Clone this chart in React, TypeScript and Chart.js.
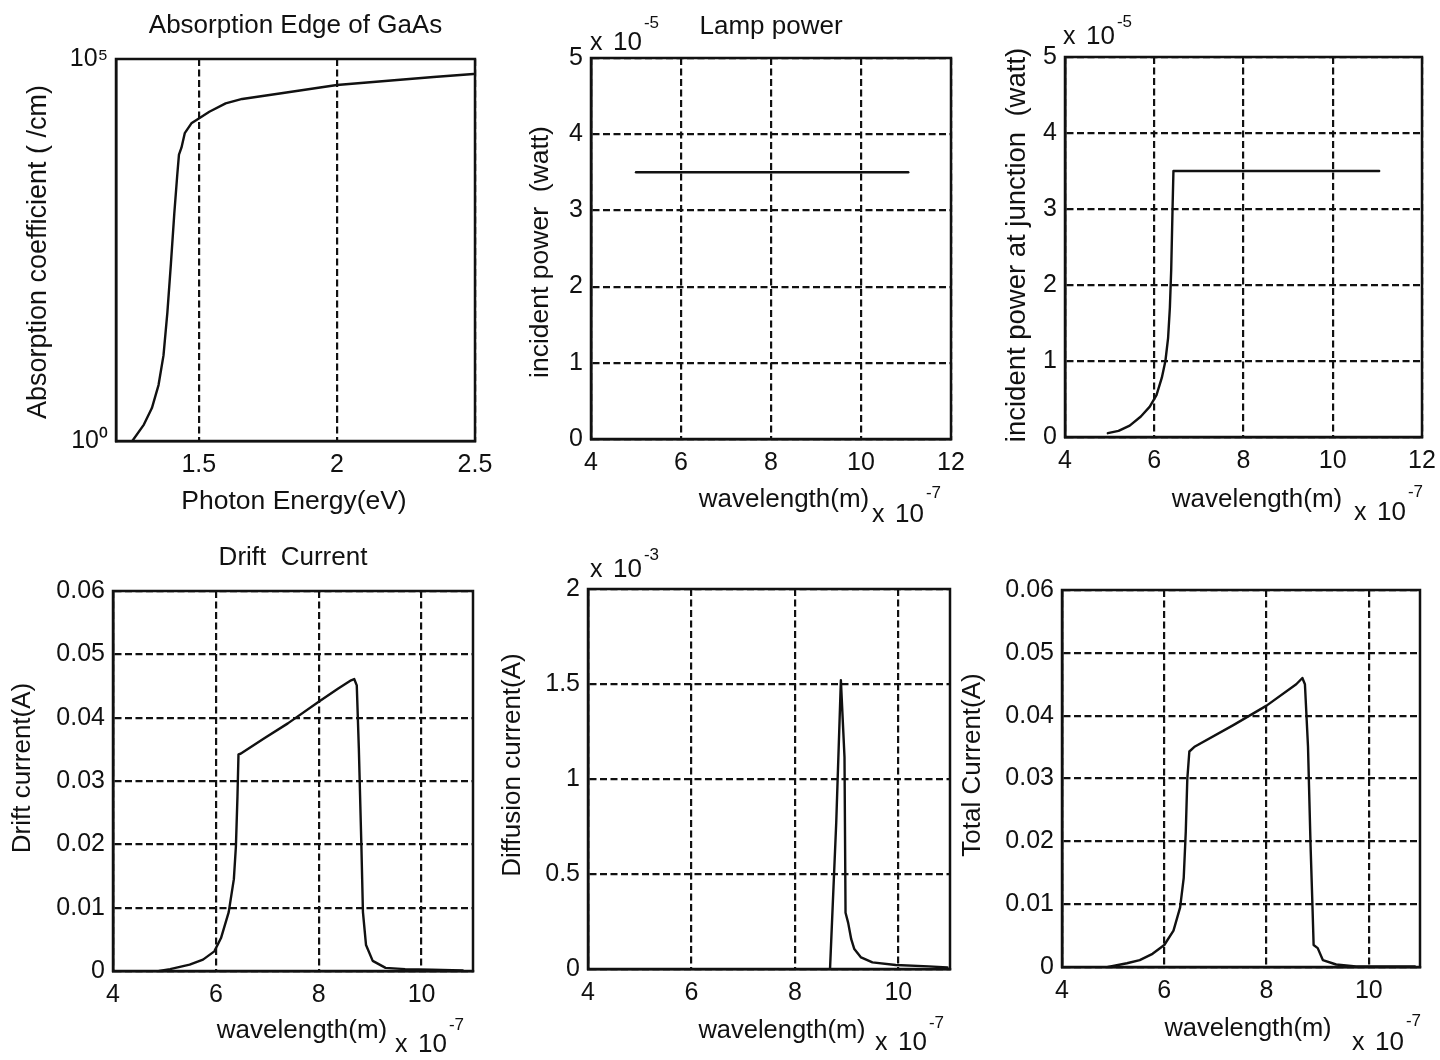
import React, { useEffect, useRef } from "react";
import { Chart, registerables } from "chart.js";

Chart.register(...registerables);

const FONT = '"Liberation Sans", Arial, Helvetica, sans-serif';
const INK = "#111111";

// ---------- Panel 1: Absorption Edge of GaAs ----------
const photonEnergy = [1.259, 1.301, 1.33, 1.354, 1.372, 1.386, 1.399, 1.411, 1.422, 1.428, 1.437, 1.449, 1.473, 1.5, 1.538, 1.597, 1.657, 1.805, 2.0, 2.229, 2.35, 2.494];
const absorptionCoef = [1, 1.64, 2.7, 5.4, 13.2, 48, 213, 940, 3100, 5600, 6900, 10700, 14400, 16700, 20400, 26200, 30000, 35900, 45700, 53500, 58200, 63500];
const energyTicks = [1.5, 2, 2.5];
const absorptionTicks = [1, 100000];
const absorptionTickLabels = ["10\u2070", "10\u2075"];

// ---------- Panel 2: Lamp power (wavelength x1e-7 m, power x1e-5 W) ----------
const lampWavelength = [5.0, 11.05];
const lampPower = [3.5, 3.5];

// ---------- Panel 3: incident power at junction ----------
const junctionWavelength = [4.96, 5.2, 5.45, 5.7, 5.9, 6.05, 6.17, 6.25, 6.31, 6.35, 6.38, 6.41, 6.43, 11.04];
const junctionPower = [0.05, 0.08, 0.15, 0.27, 0.4, 0.55, 0.78, 1.0, 1.3, 1.7, 2.2, 3.0, 3.5, 3.5];

// ---------- Panel 4: Drift current (A) ----------
const driftWavelength = [4.9, 5.11, 5.49, 5.75, 5.97, 6.1, 6.25, 6.35, 6.39, 6.42, 6.44, 6.48, 6.95, 7.4, 8.0, 8.38, 8.63, 8.69, 8.74, 8.78, 8.83, 8.86, 8.92, 9.05, 9.3, 9.68, 10.2, 10.8];
const driftCurrent = [0, 0.0003, 0.001, 0.0018, 0.0031, 0.0052, 0.0093, 0.0145, 0.0197, 0.0275, 0.0342, 0.0343, 0.0368, 0.0391, 0.0425, 0.0446, 0.0459, 0.0461, 0.0451, 0.0352, 0.0197, 0.0093, 0.0041, 0.0016, 0.0005, 0.0003, 0.0002, 0.0001];

// ---------- Panel 5: Diffusion current (x1e-3 A) ----------
const diffusionWavelength = [8.68, 8.8, 8.89, 8.96, 8.98, 9.03, 9.09, 9.15, 9.28, 9.5, 9.95, 10.59, 10.95];
const diffusionCurrent = [0, 0.77, 1.52, 1.115, 0.296, 0.244, 0.157, 0.105, 0.061, 0.035, 0.021, 0.014, 0.008];

// ---------- Panel 6: Total current (A) ----------
const totalWavelength = [4.9, 5.27, 5.52, 5.77, 6.0, 6.18, 6.31, 6.38, 6.42, 6.45, 6.49, 6.6, 7.35, 8.0, 8.58, 8.7, 8.75, 8.81, 8.86, 8.9, 8.92, 9.0, 9.1, 9.36, 9.75, 10.4, 10.9];
const totalCurrent = [0, 0.0006, 0.0011, 0.0021, 0.0035, 0.0058, 0.0095, 0.0142, 0.0215, 0.0299, 0.0343, 0.0351, 0.0385, 0.0416, 0.045, 0.046, 0.045, 0.0351, 0.0194, 0.009, 0.0035, 0.003, 0.0011, 0.0004, 0.0001, 0.0001, 0.0001];

// ---------- tick values ----------
const wavelengthTicksTo12 = [4, 6, 8, 10, 12];
const wavelengthTicksTo11 = [4, 6, 8, 10];
const powerTicks = [0, 1, 2, 3, 4, 5];
const currentTicks = [0, 0.01, 0.02, 0.03, 0.04, 0.05, 0.06];
const diffusionTicks = [0, 0.5, 1, 1.5, 2];

type Exp = { text: string; x: number; y: number; sy: number };
type Label = { text: string; x: number; y: number; size: number };
type Spec = {
  key: string;
  canvas: { x: number; y: number; w: number; h: number };
  plot: { l: number; t: number; r: number; b: number };
  title?: string;
  titlePad?: [number, number];
  yTitle: Label;
  xTitle: Label;
  xMin: number;
  xMax: number;
  xTicks: number[];
  yType: "linear" | "logarithmic";
  yMin: number;
  yMax: number;
  yTicks: number[];
  yLabels?: string[];
  yGrid: boolean;
  xs: number[];
  ys: number[];
  exps: Exp[];
};

const specs: Spec[] = [
  {
    key: "abs",
    canvas: { x: 0, y: 0, w: 498, h: 532 },
    plot: { l: 116, t: 59, r: 475, b: 441 },
    title: "Absorption Edge of GaAs",
    titlePad: [13, 20],
    yTitle: { text: "Absorption coefficient ( /cm)", x: 39, y: 252, size: 27 },
    xTitle: { text: "Photon Energy(eV)", x: 294, y: 502, size: 26.5 },
    xMin: 1.2,
    xMax: 2.5,
    xTicks: energyTicks,
    yType: "logarithmic",
    yMin: 1,
    yMax: 100000,
    yTicks: absorptionTicks,
    yLabels: absorptionTickLabels,
    yGrid: false,
    xs: photonEnergy,
    ys: absorptionCoef,
    exps: [],
  },
  {
    key: "lamp",
    canvas: { x: 498, y: 0, w: 482, h: 532 },
    plot: { l: 591, t: 58, r: 951, b: 439 },
    title: "Lamp power",
    titlePad: [14, 18],
    yTitle: { text: "incident power  (watt)", x: 541, y: 252, size: 26.5 },
    xTitle: { text: "wavelength(m)", x: 784, y: 500, size: 26 },
    xMin: 4,
    xMax: 12,
    xTicks: wavelengthTicksTo12,
    yType: "linear",
    yMin: 0,
    yMax: 5,
    yTicks: powerTicks,
    yGrid: true,
    xs: lampWavelength,
    ys: lampPower,
    exps: [
      { text: "-5", x: 590, y: 50, sy: 28 },
      { text: "-7", x: 872, y: 522, sy: 498 },
    ],
  },
  {
    key: "junction",
    canvas: { x: 980, y: 0, w: 460, h: 532 },
    plot: { l: 1065, t: 57, r: 1422, b: 437 },
    yTitle: { text: "incident power at junction  (watt)", x: 1017, y: 245, size: 27.5 },
    xTitle: { text: "wavelength(m)", x: 1257, y: 500, size: 26 },
    xMin: 4,
    xMax: 12,
    xTicks: wavelengthTicksTo12,
    yType: "linear",
    yMin: 0,
    yMax: 5,
    yTicks: powerTicks,
    yGrid: true,
    xs: junctionWavelength,
    ys: junctionPower,
    exps: [
      { text: "-5", x: 1063, y: 44, sy: 27 },
      { text: "-7", x: 1354, y: 520, sy: 497 },
    ],
  },
  {
    key: "drift",
    canvas: { x: 0, y: 532, w: 495, h: 528 },
    plot: { l: 113, t: 591, r: 473, b: 971 },
    title: "Drift  Current",
    titlePad: [13, 20],
    yTitle: { text: "Drift current(A)", x: 23, y: 768, size: 26 },
    xTitle: { text: "wavelength(m)", x: 302, y: 1031, size: 26 },
    xMin: 4,
    xMax: 11,
    xTicks: wavelengthTicksTo11,
    yType: "linear",
    yMin: 0,
    yMax: 0.06,
    yTicks: currentTicks,
    yGrid: true,
    xs: driftWavelength,
    ys: driftCurrent,
    exps: [{ text: "-7", x: 395, y: 1052, sy: 1030 }],
  },
  {
    key: "diffusion",
    canvas: { x: 495, y: 532, w: 463, h: 528 },
    plot: { l: 588, t: 589, r: 950, b: 969 },
    yTitle: { text: "Diffusion current(A)", x: 513, y: 765, size: 26 },
    xTitle: { text: "wavelength(m)", x: 782, y: 1031, size: 25.5 },
    xMin: 4,
    xMax: 11,
    xTicks: wavelengthTicksTo11,
    yType: "linear",
    yMin: 0,
    yMax: 2,
    yTicks: diffusionTicks,
    yGrid: true,
    xs: diffusionWavelength,
    ys: diffusionCurrent,
    exps: [
      { text: "-3", x: 590, y: 577, sy: 560 },
      { text: "-7", x: 875, y: 1050, sy: 1028 },
    ],
  },
  {
    key: "total",
    canvas: { x: 958, y: 532, w: 482, h: 528 },
    plot: { l: 1062, t: 590, r: 1420, b: 967 },
    yTitle: { text: "Total Current(A)", x: 973, y: 765, size: 26 },
    xTitle: { text: "wavelength(m)", x: 1248, y: 1029, size: 25.5 },
    xMin: 4,
    xMax: 11,
    xTicks: wavelengthTicksTo11,
    yType: "linear",
    yMin: 0,
    yMax: 0.06,
    yTicks: currentTicks,
    yGrid: true,
    xs: totalWavelength,
    ys: totalCurrent,
    exps: [{ text: "-7", x: 1352, y: 1050, sy: 1026 }],
  },
];

function drawExp(ctx: CanvasRenderingContext2D, x: number, y: number, sy: number, text: string) {
  ctx.fillStyle = INK;
  ctx.textAlign = "left";
  ctx.textBaseline = "alphabetic";
  ctx.font = `25px ${FONT}`;
  ctx.fillText("x", x, y);
  ctx.font = `26px ${FONT}`;
  ctx.fillText("10", x + 23, y);
  const w = ctx.measureText("10").width;
  ctx.font = `17px ${FONT}`;
  ctx.fillText(text, x + 23 + w + 2, sy);
}

function drawAxisTitle(ctx: CanvasRenderingContext2D, l: Label, ox: number, oy: number, vertical: boolean) {
  ctx.save();
  ctx.fillStyle = INK;
  ctx.textAlign = "center";
  ctx.textBaseline = "middle";
  ctx.font = `${l.size}px ${FONT}`;
  ctx.translate(l.x - ox, l.y - oy);
  if (vertical) ctx.rotate(-Math.PI / 2);
  ctx.fillText(l.text, 0, 0);
  ctx.restore();
}

function buildConfig(s: Spec): any {
  const { canvas: c, plot: p } = s;
  const yWidth = p.l - c.x;
  const xHeight = c.y + c.h - p.b;
  const padRight = c.x + c.w - p.r;
  const padTop = s.title ? 0 : p.t - c.y;
  const dash = [7, 3.5];
  const gridWidth = 2.2;

  const decor = {
    id: "decor_" + s.key,
    afterDraw(chart: any) {
      const ctx = chart.ctx as CanvasRenderingContext2D;
      const a = chart.chartArea;
      ctx.save();
      ctx.strokeStyle = INK;
      ctx.lineWidth = 2.5;
      ctx.setLineDash([]);
      ctx.strokeRect(a.left, a.top, a.right - a.left, a.bottom - a.top);
      for (const e of s.exps) drawExp(ctx, e.x - c.x, e.y - c.y, e.sy - c.y, e.text);
      drawAxisTitle(ctx, s.yTitle, c.x, c.y, true);
      drawAxisTitle(ctx, s.xTitle, c.x, c.y, false);
      ctx.restore();
    },
  };

  return {
    type: "line",
    data: {
      datasets: [
        {
          data: s.xs.map((x, i) => ({ x, y: s.ys[i] })),
          borderColor: INK,
          borderWidth: 2.4,
          borderJoinStyle: "round",
          borderCapStyle: "round",
          pointRadius: 0,
          tension: 0,
          fill: false,
        },
      ],
    },
    options: {
      animation: false,
      responsive: false,
      maintainAspectRatio: false,
      events: [],
      layout: { padding: { left: 0, right: padRight, top: padTop, bottom: 0 } },
      plugins: {
        legend: { display: false },
        tooltip: { enabled: false },
        title: s.title
          ? {
              display: true,
              text: s.title,
              fullSize: false,
              color: INK,
              font: { family: FONT, size: 26, weight: "normal", lineHeight: 1 },
              padding: { top: s.titlePad![0], bottom: s.titlePad![1] },
            }
          : { display: false },
      },
      scales: {
        x: {
          type: "linear",
          position: "bottom",
          min: s.xMin,
          max: s.xMax,
          afterBuildTicks: (scale: any) => {
            scale.ticks = s.xTicks.map((v) => ({ value: v }));
          },
          afterFit: (scale: any) => {
            scale.height = xHeight;
          },
          grid: { display: true, color: INK, lineWidth: gridWidth, drawTicks: false },
          border: { display: true, color: INK, width: 2.5, dash },
          ticks: {
            autoSkip: false,
            maxRotation: 0,
            padding: 0,
            color: INK,
            font: { family: FONT, size: 25, lineHeight: 1.92 },
            callback: (v: number) => String(v),
          },
          title: { display: false },
        },
        y: {
          type: s.yType,
          position: "left",
          min: s.yMin,
          max: s.yMax,
          afterBuildTicks: (scale: any) => {
            scale.ticks = s.yTicks.map((v) => ({ value: v }));
          },
          afterFit: (scale: any) => {
            scale.width = yWidth;
          },
          grid: { display: s.yGrid, color: INK, lineWidth: gridWidth, drawTicks: false },
          border: { display: true, color: INK, width: 2.5, dash },
          ticks: {
            autoSkip: false,
            padding: 8,
            color: INK,
            font: { family: FONT, size: 25, lineHeight: 1 },
            callback: (v: number) => {
              if (s.yLabels) {
                const idx = s.yTicks.indexOf(v);
                return idx >= 0 ? s.yLabels[idx] : "";
              }
              return String(v);
            },
          },
          title: { display: false },
        },
      },
    },
    plugins: [decor],
  };
}

function Panel({ spec }: { spec: Spec }) {
  const ref = useRef<HTMLCanvasElement | null>(null);
  useEffect(() => {
    if (!ref.current) return;
    const chart = new Chart(ref.current, buildConfig(spec));
    return () => chart.destroy();
  }, [spec]);
  const c = spec.canvas;
  return (
    <canvas
      ref={ref}
      width={c.w}
      height={c.h}
      style={{ position: "absolute", left: c.x, top: c.y, width: c.w, height: c.h }}
    />
  );
}

export default function App() {
  return (
    <div
      style={{
        position: "absolute",
        left: 0,
        top: 0,
        width: 1440,
        height: 1060,
        background: "#ffffff",
        overflow: "hidden",
      }}
    >
      {specs.map((s) => (
        <Panel key={s.key} spec={s} />
      ))}
    </div>
  );
}
